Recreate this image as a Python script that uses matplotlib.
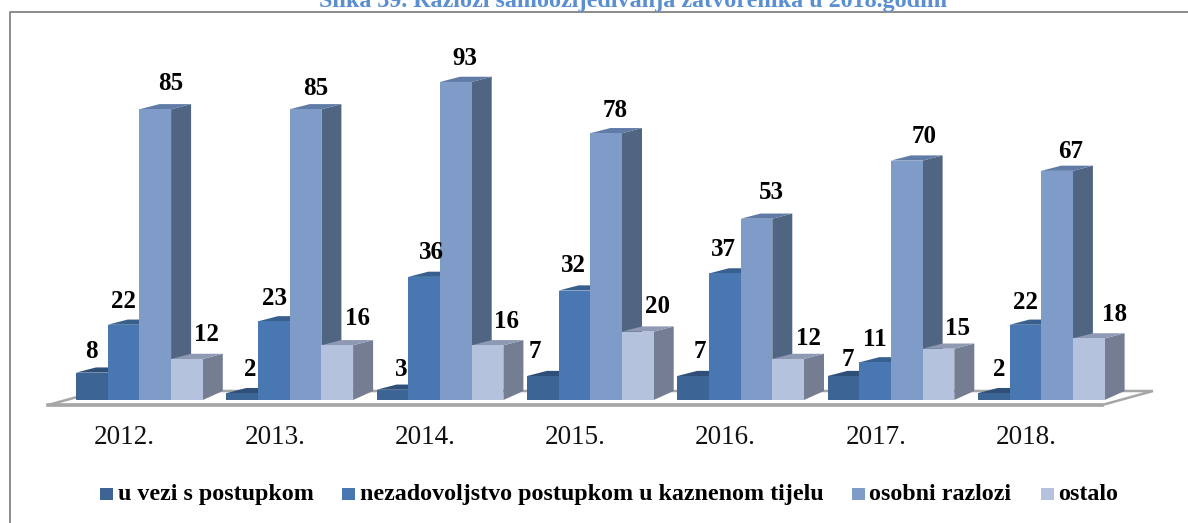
import matplotlib
matplotlib.use("Agg")
import matplotlib.pyplot as plt
from matplotlib.patches import Polygon, Rectangle

years = ["2012.", "2013.", "2014.", "2015.", "2016.", "2017.", "2018."]
series_names = ["u vezi s postupkom", "nezadovoljstvo postupkom u kaznenom tijelu", "osobni razlozi", "ostalo"]
s1 = [8, 2, 3, 7, 7, 7, 2]
s2 = [22, 23, 36, 32, 37, 11, 22]
s3 = [85, 85, 93, 78, 53, 70, 67]
s4 = [12, 16, 16, 20, 12, 15, 18]
series = [s1, s2, s3, s4]
front = ["#3C6595", "#4877B1", "#7F9CC8", "#B4C2DD"]
side = ["#2C4A6E", "#355884", "#506582", "#757D92"]
top = ["#2F4F78", "#38608F", "#5F7BA6", "#8E9AB4"]

# label nudges in pixels (right of the bar centre, above the bar top)
nudge_x = [[0, 8, 9, -8, 7, 5, 6],
           [0, 1, 7, -1, -1, 0, 0],
           [15, 10, 9, 9, 15, 17, 14],
           [20, 20, 19, 20, 20, 19, 26]]
nudge_y = [[21, 24, 20, 25, 25, 17, 24],
           [23, 23, 24, 25, 24, 23, 22],
           [26, 21, 23, 23, 26, 24, 19],
           [24, 27, 24, 25, 20, 20, 24]]

W, H = 1188, 523
plt.rcParams["font.family"] = ["Liberation Serif", "DejaVu Serif"]
fig = plt.figure(figsize=(W / 100, H / 100), dpi=100)
ax = fig.add_axes([0, 0, 1, 1])
GROUP = 150.3
PY = 3.42
BASE = 400
X0 = 76 + 2 * 31.7
ax.set_xlim(-X0 / GROUP, (W - X0) / GROUP)
ax.set_ylim(-(H - BASE) / PY, BASE / PY)
ax.axis("off")
bw = 31.7 / GROUP
dx = 20 / GROUP
dy_top = 5.2 / PY
dy_base = 9 / PY


def px(x):
    return (x - X0) / GROUP


def py(y):
    return (BASE - y) / PY


# chart frame, running off the right and bottom of the picture
ax.plot([px(9.5), px(9.5), px(1195)], [py(530), py(12.5), py(12.5)], color="#848484", lw=1.3, zorder=1)
# floor
floor = [(px(48), py(405)), (px(1102), py(405)), (px(1153), py(391)), (px(99), py(391))]
ax.add_patch(Polygon(floor, closed=True, fc="white", ec="#A6A6A6", lw=1.8, zorder=2))
ax.plot([px(48), px(1102)], [py(405)] * 2, color="#A6A6A6", lw=2.6, zorder=2)

z = 3
for i in range(len(years)):
    for j, vals in enumerate(series):
        v = vals[i]
        x = i + (j - 2) * bw
        r = x + bw
        ax.add_patch(Polygon([(r, 0), (r + dx, dy_base), (r + dx, v + dy_top), (r, v)],
                             fc=side[j], ec="none", zorder=z))
        ax.add_patch(Polygon([(x, v), (r, v), (r + dx, v + dy_top), (x + dx, v + dy_top)],
                             fc=top[j], ec="none", zorder=z))
        ax.bar(x, v, width=bw, align="edge", color=front[j], edgecolor="none", zorder=z + 0.5)
        z += 1
        ax.text(x + bw / 2 + nudge_x[j][i] / GROUP, v + nudge_y[j][i] / PY, str(v), ha="center", va="center",
                fontsize=18, fontweight="bold", color="black", zorder=200)
    ax.text(i - 15 / GROUP, py(437), years[i], ha="center", va="center", fontsize=19.5, color="#111111", zorder=200)

# legend
leg_sw = [100, 342, 852, 1041]
leg_tx = [118, 360, 869, 1058]
for name, c, sx, tx in zip(series_names, front, leg_sw, leg_tx):
    ax.add_patch(Rectangle((px(sx), py(500)), 12.5 / GROUP, 12.5 / PY, fc=c, ec="none", zorder=200))
    ax.text(px(tx), py(500), name, ha="left", va="baseline", fontsize=17.3, fontweight="bold", color="black", zorder=200)

# caption, cut off by the top of the picture as in the source
ax.text(px(633), py(7), "Slika 39. Razlozi samoozljeđivanja zatvorenika u 2018.godini", ha="center", va="baseline",
        fontsize=17.4, fontweight="bold", color="#5B8FD0", zorder=200)
fig.savefig("out.png", dpi=100)
